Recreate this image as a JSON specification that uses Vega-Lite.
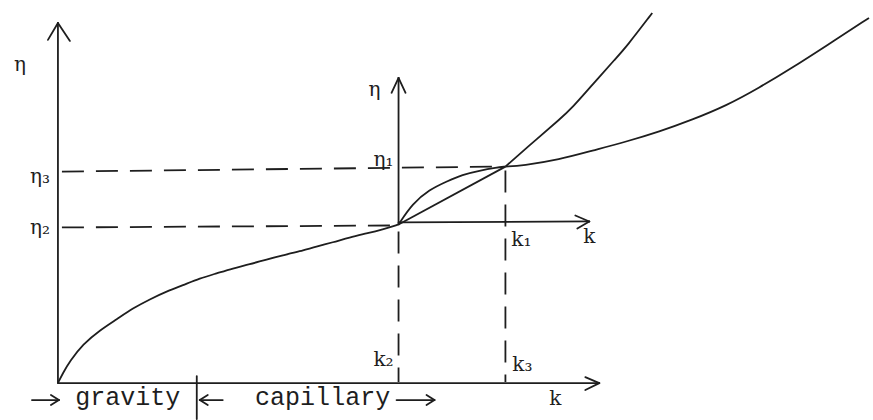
{
  "$schema": "https://vega.github.io/schema/vega-lite/v6.json",
  "width": 873,
  "height": 420,
  "autosize": {"type": "fit", "contains": "padding"},
  "padding": 0,
  "background": "white",
  "config": {"view": {"stroke": null}},
  "datasets": {
    "curves": [
      {"seg": "lower", "k": 0, "eta": 0},
      {"seg": "lower", "k": 5, "eta": 10},
      {"seg": "lower", "k": 12, "eta": 22},
      {"seg": "lower", "k": 25, "eta": 39},
      {"seg": "lower", "k": 42, "eta": 53},
      {"seg": "lower", "k": 59, "eta": 64},
      {"seg": "lower", "k": 75, "eta": 75},
      {"seg": "lower", "k": 92, "eta": 84},
      {"seg": "lower", "k": 109, "eta": 92},
      {"seg": "lower", "k": 125, "eta": 98},
      {"seg": "lower", "k": 142, "eta": 105},
      {"seg": "lower", "k": 159, "eta": 110},
      {"seg": "lower", "k": 175, "eta": 115},
      {"seg": "lower", "k": 192, "eta": 119},
      {"seg": "lower", "k": 209, "eta": 124},
      {"seg": "lower", "k": 225, "eta": 128},
      {"seg": "lower", "k": 242, "eta": 132},
      {"seg": "lower", "k": 259, "eta": 137},
      {"seg": "lower", "k": 275, "eta": 141},
      {"seg": "lower", "k": 292, "eta": 146},
      {"seg": "lower", "k": 309, "eta": 150},
      {"seg": "lower", "k": 325, "eta": 154},
      {"seg": "lower", "k": 341, "eta": 159},
      {"seg": "arc", "k": 341, "eta": 159},
      {"seg": "arc", "k": 355, "eta": 180},
      {"seg": "arc", "k": 372, "eta": 194},
      {"seg": "arc", "k": 389, "eta": 202},
      {"seg": "arc", "k": 405, "eta": 209},
      {"seg": "arc", "k": 422, "eta": 213},
      {"seg": "arc", "k": 439, "eta": 216},
      {"seg": "arc", "k": 448, "eta": 217},
      {"seg": "upper", "k": 448, "eta": 217},
      {"seg": "upper", "k": 465, "eta": 218},
      {"seg": "upper", "k": 502, "eta": 224},
      {"seg": "upper", "k": 535, "eta": 233},
      {"seg": "upper", "k": 569, "eta": 242},
      {"seg": "upper", "k": 602, "eta": 252},
      {"seg": "upper", "k": 635, "eta": 264},
      {"seg": "upper", "k": 669, "eta": 278},
      {"seg": "upper", "k": 702, "eta": 296},
      {"seg": "upper", "k": 735, "eta": 316},
      {"seg": "upper", "k": 769, "eta": 338},
      {"seg": "upper", "k": 812, "eta": 366},
      {"seg": "steep", "k": 448, "eta": 217},
      {"seg": "steep", "k": 482, "eta": 247},
      {"seg": "steep", "k": 502, "eta": 264},
      {"seg": "steep", "k": 515, "eta": 276},
      {"seg": "steep", "k": 535, "eta": 299},
      {"seg": "steep", "k": 559, "eta": 326},
      {"seg": "steep", "k": 569, "eta": 337},
      {"seg": "steep", "k": 595, "eta": 371}
    ],
    "chord": [
      {"k": 341, "eta": 159},
      {"k": 448, "eta": 217}
    ],
    "dashes": [
      {"k": 4, "eta": 212, "k2": 442, "eta2": 217},
      {"k": 4, "eta": 156, "k2": 337, "eta2": 158},
      {"k": 341, "eta": 152, "k2": 341, "eta2": 1},
      {"k": 448, "eta": 213, "k2": 448, "eta2": 1}
    ],
    "strokes": [
      {"k": 0, "eta": 0, "k2": 0, "eta2": 361},
      {"k": 0, "eta": 361, "k2": -10, "eta2": 344},
      {"k": 0, "eta": 361, "k2": 12, "eta2": 343},
      {"k": 0, "eta": 0, "k2": 542, "eta2": 0},
      {"k": 542, "eta": 0, "k2": 528, "eta2": 6},
      {"k": 542, "eta": 0, "k2": 528, "eta2": -7},
      {"k": 341, "eta": 159, "k2": 341, "eta2": 306},
      {"k": 341, "eta": 306, "k2": 334, "eta2": 291},
      {"k": 341, "eta": 306, "k2": 348, "eta2": 291},
      {"k": 341, "eta": 161, "k2": 532, "eta2": 162},
      {"k": 532, "eta": 162, "k2": 518, "eta2": 168},
      {"k": 532, "eta": 162, "k2": 520, "eta2": 155},
      {"k": 139, "eta": 7, "k2": 139, "eta2": -36},
      {"k": -26, "eta": -17, "k2": 1, "eta2": -17},
      {"k": 1, "eta": -17, "k2": -7, "eta2": -12},
      {"k": 1, "eta": -17, "k2": -7, "eta2": -22},
      {"k": 142, "eta": -17, "k2": 165, "eta2": -17},
      {"k": 142, "eta": -17, "k2": 150, "eta2": -12},
      {"k": 142, "eta": -17, "k2": 150, "eta2": -22},
      {"k": 339, "eta": -17, "k2": 377, "eta2": -17},
      {"k": 377, "eta": -17, "k2": 369, "eta2": -12},
      {"k": 377, "eta": -17, "k2": 369, "eta2": -22}
    ],
    "symbols": [
      {"k": -38, "eta": 319, "text": "η"},
      {"k": -18, "eta": 207, "text": "η₃"},
      {"k": -18, "eta": 155, "text": "η₂"},
      {"k": 317, "eta": 294, "text": "η"},
      {"k": 326, "eta": 224, "text": "η₁"},
      {"k": 464, "eta": 143, "text": "k₁"},
      {"k": 532, "eta": 146, "text": "k"},
      {"k": 326, "eta": 23, "text": "k₂"},
      {"k": 465, "eta": 18, "text": "k₃"},
      {"k": 498, "eta": -16, "text": "k"}
    ],
    "words": [
      {"k": 70, "eta": -22, "text": "gravity"},
      {"k": 265, "eta": -22, "text": "capillary"}
    ]
  },
  "layer": [
    {
      "data": {"name": "dashes"},
      "mark": {"type": "rule", "color": "#1e1e1e", "strokeWidth": 1.8, "strokeDash": [22, 12]},
      "encoding": {
        "x": {"field": "k", "type": "quantitative", "scale": {"domain": [-58, 815], "nice": false, "zero": false}, "axis": null},
        "y": {"field": "eta", "type": "quantitative", "scale": {"domain": [-36, 384], "nice": false, "zero": false}, "axis": null},
        "x2": {"field": "k2"},
        "y2": {"field": "eta2"}
      }
    },
    {
      "data": {"name": "strokes"},
      "mark": {"type": "rule", "color": "#1e1e1e", "strokeWidth": 1.8, "strokeCap": "round"},
      "encoding": {
        "x": {"field": "k", "type": "quantitative"},
        "y": {"field": "eta", "type": "quantitative"},
        "x2": {"field": "k2"},
        "y2": {"field": "eta2"}
      }
    },
    {
      "data": {"name": "curves"},
      "mark": {"type": "line", "color": "#1e1e1e", "strokeWidth": 1.8, "interpolate": "basis"},
      "encoding": {
        "x": {"field": "k", "type": "quantitative"},
        "y": {"field": "eta", "type": "quantitative"},
        "detail": {"field": "seg", "type": "nominal"}
      }
    },
    {
      "data": {"name": "chord"},
      "mark": {"type": "line", "color": "#1e1e1e", "strokeWidth": 1.8},
      "encoding": {
        "x": {"field": "k", "type": "quantitative"},
        "y": {"field": "eta", "type": "quantitative"}
      }
    },
    {
      "data": {"name": "symbols"},
      "mark": {"type": "text", "font": "DejaVu Serif", "fontSize": 20, "color": "#1e1e1e", "align": "center", "baseline": "middle"},
      "encoding": {
        "x": {"field": "k", "type": "quantitative"},
        "y": {"field": "eta", "type": "quantitative"},
        "text": {"field": "text"}
      }
    },
    {
      "data": {"name": "words"},
      "mark": {"type": "text", "font": "Liberation Mono", "fontSize": 25, "color": "#1e1e1e", "align": "center", "baseline": "alphabetic"},
      "encoding": {
        "x": {"field": "k", "type": "quantitative"},
        "y": {"field": "eta", "type": "quantitative"},
        "text": {"field": "text"}
      }
    }
  ]
}
